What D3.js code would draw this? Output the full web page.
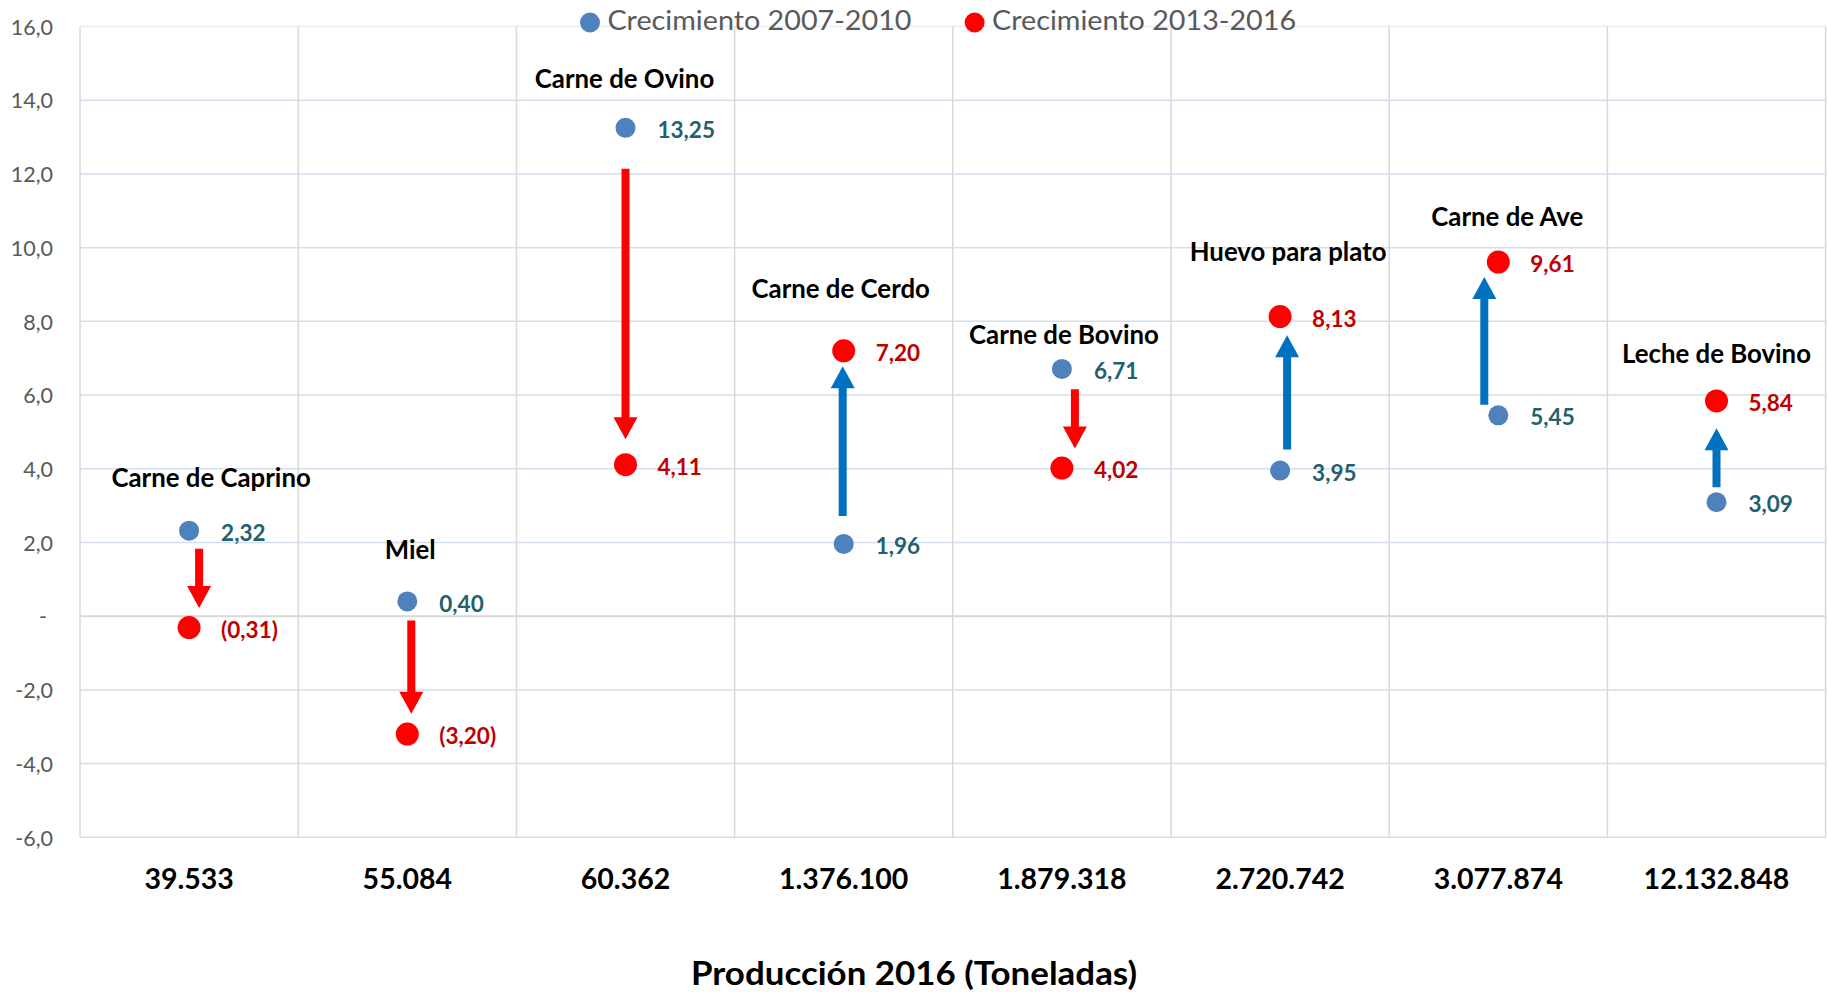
<!DOCTYPE html>
<html><head><meta charset="utf-8">
<script src="https://cdn.jsdelivr.net/npm/d3@7"></script>
<style>body{margin:0;background:#fff}svg{display:block}</style>
</head><body><svg id="c" width="1828" height="992"></svg>
<script>
// ---------- DATA ----------
const production = ["39.533","55.084","60.362","1.376.100","1.879.318","2.720.742","3.077.874","12.132.848"];
const products = ["Carne de Caprino","Miel","Carne de Ovino","Carne de Cerdo","Carne de Bovino","Huevo para plato","Carne de Ave","Leche de Bovino"];
const growth2007_2010 = [2.32,0.40,13.25,1.96,6.71,3.95,5.45,3.09];
const growth2013_2016 = [-0.31,-3.20,4.11,7.20,4.02,8.13,9.61,5.84];
const yTicks = [-6,-4,-2,0,2,4,6,8,10,12,14,16];
const seriesNames = ["Crecimiento 2007-2010","Crecimiento 2013-2016"];
const xTitle = "Producción 2016 (Toneladas)";

// annotation anchors (value-axis units)
const arrowFrom = [1.83,-0.12,12.14,2.72,6.16,4.52,5.74,3.50];
const arrowTo   = [0.22,-2.65,4.80,6.78,4.55,7.62,9.20,5.10];
const titleLevel = [3.76,1.81,14.59,8.88,7.65,9.89,10.83,7.11];

// ---------- LAYOUT ----------
const arrowShift = [10,4,0,-1,13,7,-14,0];
const titleShift = [22,3,-1,-3,2,8,9,0];
const FONT = "Lato, 'Open Sans', sans-serif";
const BLUE = "#4f81bd", RED = "#ff0000", UP = "#0070c0";
const BLUE_TXT = "#245f6e", RED_TXT = "#c00000";

const svg = d3.select("#c");
const x = d3.scaleBand().domain(production).range([80, 1825.6]);
const y = d3.scaleLinear().domain([-6, 16]).range([837.3, 26.5]);
const cx = i => x(production[i]) + x.bandwidth() / 2;
const fmtTick = d => d === 0 ? "-" : (d < 0 ? "-" : "") + Math.abs(d).toFixed(1).replace(".", ",");
const fmtVal = v => v < 0 ? "(" + Math.abs(v).toFixed(2).replace(".", ",") + ")" : v.toFixed(2).replace(".", ",");

// horizontal gridlines
svg.append("g").selectAll("line").data(yTicks.filter(d => d !== 0)).join("line")
  .attr("x1", 80).attr("x2", 1825.6).attr("y1", d => y(d)).attr("y2", d => y(d))
  .attr("stroke", d => d === 16 ? "#e9eff8" : "#d3deef").attr("stroke-width", 1.5);
// vertical gridlines
const edges = production.map(p => x(p)).concat([x.range()[1]]);
svg.append("g").selectAll("line").data(edges).join("line")
  .attr("x1", d => d).attr("x2", d => d).attr("y1", y(16)).attr("y2", y(-6))
  .attr("stroke", "#d9d9d9").attr("stroke-width", 1.5);
// zero line (category axis)
svg.append("line").attr("x1", 80).attr("x2", 1825.6).attr("y1", y(0)).attr("y2", y(0))
  .attr("stroke", "#d9d9d9").attr("stroke-width", 2);

// y axis labels
const ya = svg.append("g").attr("transform", "translate(53,0)")
  .call(d3.axisLeft(y).tickValues(yTicks).tickFormat(fmtTick).tickSize(0).tickPadding(0));
ya.select(".domain").remove();
ya.selectAll("text").attr("font-family", FONT).attr("font-size", 21.5).attr("fill", "#595959")
  .attr("dy", "0.36em").attr("x", d => d === 0 ? -6 : 0);

// x axis labels
const xa = svg.append("g").attr("transform", "translate(0,889)")
  .call(d3.axisBottom(x).tickSize(0).tickPadding(0));
xa.select(".domain").remove();
xa.selectAll("text").attr("y", 0).attr("dy", 0).attr("font-family", FONT)
  .attr("font-size", 28.5).attr("font-weight", 700).attr("fill", "#000");

// arrows
const idx = d3.range(production.length);
svg.append("g").selectAll("path").data(idx).join("path")
  .attr("fill", i => growth2013_2016[i] > growth2007_2010[i] ? UP : RED)
  .attr("d", i => {
    const x0 = cx(i) + arrowShift[i], y1 = y(arrowFrom[i]), y2 = y(arrowTo[i]);
    const dir = y2 > y1 ? 1 : -1, hl = 22, hw = 12, sw = 4, yb = y2 - dir * hl;
    return `M${x0 - sw},${y1}L${x0 + sw},${y1}L${x0 + sw},${yb}L${x0 + hw},${yb}L${x0},${y2}L${x0 - hw},${yb}L${x0 - sw},${yb}Z`;
  });

// dots
svg.append("g").selectAll("circle").data(idx).join("circle")
  .attr("cx", cx).attr("cy", i => y(growth2007_2010[i])).attr("r", 10).attr("fill", BLUE);
svg.append("g").selectAll("circle").data(idx).join("circle")
  .attr("cx", cx).attr("cy", i => y(growth2013_2016[i])).attr("r", 11.5).attr("fill", RED);

// value labels
svg.append("g").selectAll("text").data(idx).join("text")
  .attr("x", i => cx(i) + 32).attr("y", i => y(growth2007_2010[i]) + 2).attr("dy", "0.36em")
  .attr("font-family", FONT).attr("font-size", 22.5).attr("font-weight", 700).attr("fill", BLUE_TXT)
  .text(i => fmtVal(growth2007_2010[i]));
svg.append("g").selectAll("text").data(idx).join("text")
  .attr("x", i => cx(i) + 32).attr("y", i => y(growth2013_2016[i]) + 2).attr("dy", "0.36em")
  .attr("font-family", FONT).attr("font-size", 22.5).attr("font-weight", 700).attr("fill", RED_TXT)
  .text(i => fmtVal(growth2013_2016[i]));

// product titles
svg.append("g").selectAll("text").data(idx).join("text")
  .attr("x", i => cx(i) + titleShift[i]).attr("y", i => y(titleLevel[i])).attr("dy", "0.36em")
  .attr("text-anchor", "middle").attr("font-family", FONT).attr("font-size", 25.8)
  .attr("font-weight", 700).attr("fill", "#000").text(i => products[i]);

// legend
const legX = [590, 974.6];
const lg = svg.append("g");
lg.selectAll("circle").data([0, 1]).join("circle")
  .attr("cx", i => legX[i]).attr("cy", 22.5).attr("r", 10).attr("fill", i => i ? RED : BLUE);
lg.selectAll("text").data([0, 1]).join("text")
  .attr("x", i => legX[i] + 17.5).attr("y", 29.5)
  .attr("font-family", FONT).attr("font-size", 27).attr("fill", "#595959")
  .attr("textLength", 304).attr("lengthAdjust", "spacingAndGlyphs")
  .text(i => seriesNames[i]);

// x axis title
svg.append("text").attr("x", 691).attr("y", 984.5)
  .attr("font-family", FONT).attr("font-size", 32).attr("font-weight", 700).attr("fill", "#000")
  .attr("textLength", 446).attr("lengthAdjust", "spacingAndGlyphs").text(xTitle);
</script></body></html>
